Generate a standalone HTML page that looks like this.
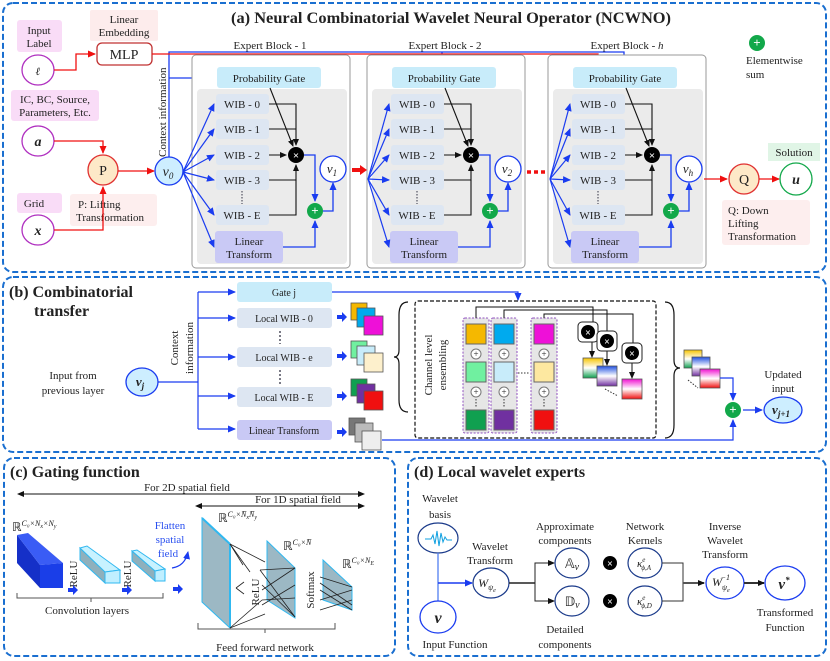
<!DOCTYPE html>
<html><head><meta charset="utf-8">
<style>
html,body{margin:0;padding:0;background:#fff;}
svg{display:block;}
text{font-family:"Liberation Serif",serif;fill:#222;}
.t{font-size:11px;text-anchor:middle;}
.s{font-size:10px;text-anchor:middle;}
.b{font-weight:bold;}
.m{font-style:italic;font-weight:bold;}
</style></head><body>
<svg width="830" height="661" viewBox="0 0 830 661" xmlns="http://www.w3.org/2000/svg">
<defs>
<marker id="ab" markerWidth="8" markerHeight="8" refX="7" refY="4" orient="auto" markerUnits="userSpaceOnUse"><path d="M0,0.5 L8,4 L0,7.5z" fill="#1a3cf0"/></marker>
<marker id="ar" markerWidth="8" markerHeight="8" refX="7" refY="4" orient="auto" markerUnits="userSpaceOnUse"><path d="M0,0.5 L8,4 L0,7.5z" fill="#f01010"/></marker>
<marker id="ak" markerWidth="7" markerHeight="7" refX="6" refY="3.5" orient="auto" markerUnits="userSpaceOnUse"><path d="M0,0.5 L7,3.5 L0,6.5z" fill="#111"/></marker>
<marker id="ak2" markerWidth="7" markerHeight="7" refX="6" refY="3.5" orient="auto-start-reverse" markerUnits="userSpaceOnUse"><path d="M0,0.5 L7,3.5 L0,6.5z" fill="#111"/></marker>
<linearGradient id="g1" x1="0" y1="0" x2="0" y2="1"><stop offset="0" stop-color="#f5c400"/><stop offset="0.5" stop-color="#fff"/><stop offset="1" stop-color="#10a050"/></linearGradient>
<linearGradient id="g2" x1="0" y1="0" x2="0" y2="1"><stop offset="0" stop-color="#2050e0"/><stop offset="0.5" stop-color="#fff"/><stop offset="1" stop-color="#7030a0"/></linearGradient>
<linearGradient id="g3" x1="0" y1="0" x2="0" y2="1"><stop offset="0" stop-color="#f010d0"/><stop offset="0.5" stop-color="#fff"/><stop offset="1" stop-color="#f01010"/></linearGradient>
</defs>

<!-- ================= PANEL A ================= -->
<rect x="3" y="3" width="823" height="269" rx="10" fill="none" stroke="#1a6fd0" stroke-width="2" stroke-dasharray="6,3"/>
<text x="451" y="23" font-size="16" class="b" text-anchor="middle" textLength="440" lengthAdjust="spacingAndGlyphs">(a) Neural Combinatorial Wavelet Neural Operator (NCWNO)</text>

<rect x="17" y="20" width="45" height="32" rx="3" fill="#f9dcf7"/>
<text x="39" y="34" class="t">Input</text><text x="39" y="47" class="t">Label</text>
<rect x="90" y="10" width="68" height="31" rx="2" fill="#fdecec"/>
<text x="124" y="23" class="t">Linear</text><text x="124" y="36" class="t">Embedding</text>
<rect x="97" y="43" width="55" height="22" rx="5" fill="#fff" stroke="#c03030" stroke-width="1.3"/>
<text x="124" y="59" font-size="14" text-anchor="middle">MLP</text>
<ellipse cx="38" cy="70" rx="16" ry="15" fill="#fff" stroke="#b030c0" stroke-width="1.3"/>
<text x="38" y="75" class="t m" font-size="13">ℓ</text>
<path d="M54,70 H76 V54 H95" fill="none" stroke="#f01010" stroke-width="1.3" marker-end="url(#ar)"/>

<rect x="11" y="90" width="88" height="31" rx="3" fill="#f9dcf7"/>
<text x="55" y="103" class="t">IC, BC, Source,</text><text x="55" y="116" class="t">Parameters, Etc.</text>
<ellipse cx="38" cy="141" rx="16" ry="15" fill="#fff" stroke="#b030c0" stroke-width="1.3"/>
<text x="38" y="146" class="m" font-size="14" text-anchor="middle">a</text>
<rect x="17" y="193" width="45" height="20" rx="3" fill="#f9dcf7"/>
<text x="34" y="207" class="t">Grid</text>
<ellipse cx="38" cy="230" rx="16" ry="15" fill="#fff" stroke="#b030c0" stroke-width="1.3"/>
<text x="38" y="235" class="m" font-size="14" text-anchor="middle">x</text>
<rect x="70" y="194" width="87" height="32" rx="3" fill="#fdeeee"/>
<text x="78" y="208" font-size="11">P: Lifting</text><text x="76" y="221" font-size="11">Transformation</text>
<path d="M54,141 H103 V153" fill="none" stroke="#f01010" stroke-width="1.3" marker-end="url(#ar)"/>
<path d="M54,230 H103 V187" fill="none" stroke="#f01010" stroke-width="1.3" marker-end="url(#ar)"/>
<circle cx="103" cy="170" r="15" fill="#fde9c8" stroke="#e03030" stroke-width="1.3"/>
<text x="103" y="175" font-size="14" text-anchor="middle">P</text>
<path d="M118,171 H154" fill="none" stroke="#f01010" stroke-width="1.3" marker-end="url(#ar)"/>
<ellipse cx="169" cy="171" rx="14" ry="14" fill="#cdeeff" stroke="#1a3cf0" stroke-width="1.3"/>
<text x="168" y="176" font-size="14" text-anchor="middle" font-style="italic">v<tspan font-size="9" dy="3">0</tspan></text>
<text transform="translate(166,157) rotate(-90)" font-size="11">Context information</text>
<!-- top lines -->
<path d="M169,157 V52 H624 V65" fill="none" stroke="#1a3cf0" stroke-width="1.3" marker-end="url(#ab)"/>
<path d="M442,52 V65" fill="none" stroke="#1a3cf0" stroke-width="1.3" marker-end="url(#ab)"/>
<path d="M152,54 H598 V65" fill="none" stroke="#f01010" stroke-width="1.3" marker-end="url(#ar)"/>
<path d="M270,54 V65" fill="none" stroke="#f01010" stroke-width="1.3" marker-end="url(#ar)"/>
<path d="M412,54 V65" fill="none" stroke="#f01010" stroke-width="1.3" marker-end="url(#ar)"/>
<path d="M169,78 H215" fill="none" stroke="#1a3cf0" stroke-width="1.3" marker-end="url(#ab)"/>
<text x="270" y="49" class="t">Expert Block - 1</text>
<text x="445" y="49" class="t">Expert Block - 2</text>
<text x="627" y="49" class="t">Expert Block - <tspan font-style="italic">h</tspan></text>

<!-- Block 1 -->
<g id="blk1">
<rect x="192" y="55" width="158" height="213" rx="4" fill="#fff" stroke="#999"/>
<rect x="197" y="89" width="150" height="175" rx="4" fill="#ebebeb"/>
<rect x="217" y="67" width="104" height="21" rx="3" fill="#c8ecfa"/>
<text x="269" y="82" class="t" font-size="11.5">Probability Gate</text>
<rect x="216" y="94" width="53" height="20" rx="3" fill="#dde6f2"/><text x="242" y="108" class="t">WIB - 0</text>
<rect x="216" y="119" width="53" height="20" rx="3" fill="#dde6f2"/><text x="242" y="133" class="t">WIB - 1</text>
<rect x="216" y="145" width="53" height="20" rx="3" fill="#dde6f2"/><text x="242" y="159" class="t">WIB - 2</text>
<rect x="216" y="170" width="53" height="20" rx="3" fill="#dde6f2"/><text x="242" y="184" class="t">WIB - 3</text>
<line x1="242" y1="191" x2="242" y2="204" stroke="#334" stroke-dasharray="1.5,1.5"/>
<rect x="216" y="205" width="53" height="20" rx="3" fill="#dde6f2"/><text x="242" y="219" class="t">WIB - E</text>
<rect x="215" y="231" width="68" height="32" rx="3" fill="#c9c9f5"/>
<text x="249" y="245" class="t">Linear</text><text x="249" y="258" class="t">Transform</text>
<path d="M269,104 H296 V145" fill="none" stroke="#111" stroke-width="1.1" marker-end="url(#ak)"/>
<path d="M269,129 H296" fill="none" stroke="#111" stroke-width="1.1"/>
<path d="M269,155 H286" fill="none" stroke="#111" stroke-width="1.1" marker-end="url(#ak)"/>
<path d="M269,180 H296 V165" fill="none" stroke="#111" stroke-width="1.1" marker-end="url(#ak)"/>
<path d="M269,215 H296 V180" fill="none" stroke="#111" stroke-width="1.1"/>
<path d="M270,88 L293,146" fill="none" stroke="#111" stroke-width="1.1" marker-end="url(#ak)"/>
<circle cx="296" cy="155" r="8" fill="#000"/><text x="296" y="159" font-size="11" text-anchor="middle" fill="#fff" style="fill:#fff" font-weight="bold">×</text>
<path d="M304,155 H315 V201" fill="none" stroke="#1a3cf0" stroke-width="1.3" marker-end="url(#ab)"/>
<path d="M283,247 H315 V221" fill="none" stroke="#1a3cf0" stroke-width="1.3" marker-end="url(#ab)"/>
<circle cx="315" cy="211" r="8" fill="#12a84a"/><text x="315" y="215" font-size="13" text-anchor="middle" style="fill:#fff" font-weight="bold">+</text>
<path d="M323,211 H333 V183" fill="none" stroke="#1a3cf0" stroke-width="1.3" marker-end="url(#ab)"/>
<circle cx="333" cy="169" r="13" fill="#fff" stroke="#1a3cf0" stroke-width="1.3"/>
</g>
<text x="332" y="173" font-size="13" text-anchor="middle" font-style="italic">v<tspan font-size="9" dy="3">1</tspan></text>
<g transform="translate(175,0)">
<rect x="192" y="55" width="158" height="213" rx="4" fill="#fff" stroke="#999"/>
<rect x="197" y="89" width="150" height="175" rx="4" fill="#ebebeb"/>
<rect x="217" y="67" width="104" height="21" rx="3" fill="#c8ecfa"/>
<text x="269" y="82" class="t" font-size="11.5">Probability Gate</text>
<rect x="216" y="94" width="53" height="20" rx="3" fill="#dde6f2"/><text x="242" y="108" class="t">WIB - 0</text>
<rect x="216" y="119" width="53" height="20" rx="3" fill="#dde6f2"/><text x="242" y="133" class="t">WIB - 1</text>
<rect x="216" y="145" width="53" height="20" rx="3" fill="#dde6f2"/><text x="242" y="159" class="t">WIB - 2</text>
<rect x="216" y="170" width="53" height="20" rx="3" fill="#dde6f2"/><text x="242" y="184" class="t">WIB - 3</text>
<line x1="242" y1="191" x2="242" y2="204" stroke="#334" stroke-dasharray="1.5,1.5"/>
<rect x="216" y="205" width="53" height="20" rx="3" fill="#dde6f2"/><text x="242" y="219" class="t">WIB - E</text>
<rect x="215" y="231" width="68" height="32" rx="3" fill="#c9c9f5"/>
<text x="249" y="245" class="t">Linear</text><text x="249" y="258" class="t">Transform</text>
<path d="M269,104 H296 V145" fill="none" stroke="#111" stroke-width="1.1" marker-end="url(#ak)"/>
<path d="M269,129 H296" fill="none" stroke="#111" stroke-width="1.1"/>
<path d="M269,155 H286" fill="none" stroke="#111" stroke-width="1.1" marker-end="url(#ak)"/>
<path d="M269,180 H296 V165" fill="none" stroke="#111" stroke-width="1.1" marker-end="url(#ak)"/>
<path d="M269,215 H296 V180" fill="none" stroke="#111" stroke-width="1.1"/>
<path d="M270,88 L293,146" fill="none" stroke="#111" stroke-width="1.1" marker-end="url(#ak)"/>
<circle cx="296" cy="155" r="8" fill="#000"/><text x="296" y="159" font-size="11" text-anchor="middle" style="fill:#fff" font-weight="bold">×</text>
<path d="M304,155 H315 V201" fill="none" stroke="#1a3cf0" stroke-width="1.3" marker-end="url(#ab)"/>
<path d="M283,247 H315 V221" fill="none" stroke="#1a3cf0" stroke-width="1.3" marker-end="url(#ab)"/>
<circle cx="315" cy="211" r="8" fill="#12a84a"/><text x="315" y="215" font-size="13" text-anchor="middle" style="fill:#fff" font-weight="bold">+</text>
<path d="M323,211 H333 V183" fill="none" stroke="#1a3cf0" stroke-width="1.3" marker-end="url(#ab)"/>
<circle cx="333" cy="169" r="13" fill="#fff" stroke="#1a3cf0" stroke-width="1.3"/>
<text x="332" y="173" font-size="13" text-anchor="middle" font-style="italic">v<tspan font-size="9" dy="3">2</tspan></text>
</g>
<g transform="translate(356,0)">
<rect x="192" y="55" width="158" height="213" rx="4" fill="#fff" stroke="#999"/>
<rect x="197" y="89" width="150" height="175" rx="4" fill="#ebebeb"/>
<rect x="217" y="67" width="104" height="21" rx="3" fill="#c8ecfa"/>
<text x="269" y="82" class="t" font-size="11.5">Probability Gate</text>
<rect x="216" y="94" width="53" height="20" rx="3" fill="#dde6f2"/><text x="242" y="108" class="t">WIB - 0</text>
<rect x="216" y="119" width="53" height="20" rx="3" fill="#dde6f2"/><text x="242" y="133" class="t">WIB - 1</text>
<rect x="216" y="145" width="53" height="20" rx="3" fill="#dde6f2"/><text x="242" y="159" class="t">WIB - 2</text>
<rect x="216" y="170" width="53" height="20" rx="3" fill="#dde6f2"/><text x="242" y="184" class="t">WIB - 3</text>
<line x1="242" y1="191" x2="242" y2="204" stroke="#334" stroke-dasharray="1.5,1.5"/>
<rect x="216" y="205" width="53" height="20" rx="3" fill="#dde6f2"/><text x="242" y="219" class="t">WIB - E</text>
<rect x="215" y="231" width="68" height="32" rx="3" fill="#c9c9f5"/>
<text x="249" y="245" class="t">Linear</text><text x="249" y="258" class="t">Transform</text>
<path d="M269,104 H296 V145" fill="none" stroke="#111" stroke-width="1.1" marker-end="url(#ak)"/>
<path d="M269,129 H296" fill="none" stroke="#111" stroke-width="1.1"/>
<path d="M269,155 H286" fill="none" stroke="#111" stroke-width="1.1" marker-end="url(#ak)"/>
<path d="M269,180 H296 V165" fill="none" stroke="#111" stroke-width="1.1" marker-end="url(#ak)"/>
<path d="M269,215 H296 V180" fill="none" stroke="#111" stroke-width="1.1"/>
<path d="M270,88 L293,146" fill="none" stroke="#111" stroke-width="1.1" marker-end="url(#ak)"/>
<circle cx="296" cy="155" r="8" fill="#000"/><text x="296" y="159" font-size="11" text-anchor="middle" style="fill:#fff" font-weight="bold">×</text>
<path d="M304,155 H315 V201" fill="none" stroke="#1a3cf0" stroke-width="1.3" marker-end="url(#ab)"/>
<path d="M283,247 H315 V221" fill="none" stroke="#1a3cf0" stroke-width="1.3" marker-end="url(#ab)"/>
<circle cx="315" cy="211" r="8" fill="#12a84a"/><text x="315" y="215" font-size="13" text-anchor="middle" style="fill:#fff" font-weight="bold">+</text>
<path d="M323,211 H333 V183" fill="none" stroke="#1a3cf0" stroke-width="1.3" marker-end="url(#ab)"/>
<circle cx="333" cy="169" r="13" fill="#fff" stroke="#1a3cf0" stroke-width="1.3"/>
<text x="332" y="173" font-size="13" text-anchor="middle" font-style="italic">v<tspan font-size="9" dy="3">h</tspan></text>
</g>
<!-- fans -->
<g fill="none" stroke="#1a3cf0" stroke-width="1.2" marker-end="url(#ab)">
<path d="M183,172 L214,104"/><path d="M183,172 L214,129"/><path d="M183,172 L214,155"/><path d="M183,172 L214,180"/><path d="M183,172 L214,215"/><path d="M183,172 L214,247"/>
<path d="M368,179 L389,104"/><path d="M368,179 L389,129"/><path d="M368,179 L389,155"/><path d="M368,179 L389,180"/><path d="M368,179 L389,215"/><path d="M368,179 L389,247"/>
<path d="M550,179 L570,104"/><path d="M550,179 L570,129"/><path d="M550,179 L570,155"/><path d="M550,179 L570,180"/><path d="M550,179 L570,215"/><path d="M550,179 L570,247"/>
</g>
<path d="M352,170 H361" stroke="#f01010" stroke-width="4"/><path d="M360,165 L367,170 L360,175z" fill="#f01010"/>
<line x1="527" y1="172" x2="546" y2="172" stroke="#f01010" stroke-width="3.5" stroke-dasharray="4,3"/>
<!-- Q / u -->
<path d="M704,179 H727" fill="none" stroke="#f01010" stroke-width="1.3" marker-end="url(#ar)"/>
<circle cx="744" cy="179" r="15" fill="#fde9c8" stroke="#e03030" stroke-width="1.3"/>
<text x="744" y="184" font-size="14" text-anchor="middle">Q</text>
<path d="M759,179 H779" fill="none" stroke="#f01010" stroke-width="1.3" marker-end="url(#ar)"/>
<circle cx="796" cy="179" r="16" fill="#fff" stroke="#12a84a" stroke-width="1.3"/>
<text x="796" y="184" class="m" font-size="14" text-anchor="middle">u</text>
<rect x="768" y="143" width="52" height="18" fill="#e0f5e6"/>
<text x="794" y="156" class="t">Solution</text>
<rect x="722" y="200" width="88" height="45" rx="3" fill="#fdeeee"/>
<text x="728" y="214" font-size="11">Q: Down</text><text x="728" y="227" font-size="11">Lifting</text><text x="728" y="240" font-size="11">Transformation</text>
<circle cx="757" cy="43" r="8" fill="#12a84a"/><text x="757" y="47" font-size="13" text-anchor="middle" style="fill:#fff" font-weight="bold">+</text>
<text x="746" y="64" font-size="11">Elementwise</text><text x="746" y="78" font-size="11">sum</text>

<!-- ================= PANEL B ================= -->
<rect x="3" y="277" width="823" height="175" rx="10" fill="none" stroke="#1a6fd0" stroke-width="2" stroke-dasharray="6,3"/>
<text x="9" y="297" font-size="16" class="b">(b) Combinatorial</text>
<text x="34" y="316" font-size="16" class="b">transfer</text>
<text x="73" y="379" class="t" font-size="12">Input from</text><text x="73" y="394" class="t" font-size="12">previous layer</text>
<ellipse cx="142" cy="382" rx="16" ry="14" fill="#cdeeff" stroke="#1a3cf0" stroke-width="1.3"/>
<text x="140" y="386" class="m" font-size="13" text-anchor="middle">v<tspan font-size="9" dy="3">j</tspan></text>
<path d="M158,382 H198" fill="none" stroke="#1a3cf0" stroke-width="1.2"/>
<path d="M198,292 V429" fill="none" stroke="#1a3cf0" stroke-width="1.2"/>
<g fill="none" stroke="#1a3cf0" stroke-width="1.2" marker-end="url(#ab)">
<path d="M198,292 H235"/><path d="M198,318 H235"/><path d="M198,357 H235"/><path d="M198,396 H235"/><path d="M198,429 H235"/>
</g>
<text transform="translate(178,348) rotate(-90)" class="t" font-size="11">Context</text>
<text transform="translate(193,348) rotate(-90)" class="t" font-size="11">information</text>
<rect x="237" y="282" width="95" height="20" rx="3" fill="#c8ecfa"/><text x="284" y="296" class="s">Gate j</text>
<rect x="237" y="308" width="95" height="20" rx="3" fill="#dde6f2"/><text x="284" y="322" class="s">Local WIB - 0</text>
<rect x="237" y="347" width="95" height="20" rx="3" fill="#dde6f2"/><text x="284" y="361" class="s">Local WIB - e</text>
<rect x="237" y="387" width="95" height="20" rx="3" fill="#dde6f2"/><text x="284" y="401" class="s">Local WIB - E</text>
<rect x="237" y="420" width="95" height="20" rx="3" fill="#c9c9f5"/><text x="284" y="434" class="s">Linear Transform</text>
<line x1="280" y1="331" x2="280" y2="344" stroke="#334" stroke-width="1.3" stroke-dasharray="2,2"/>
<line x1="280" y1="370" x2="280" y2="384" stroke="#334" stroke-width="1.3" stroke-dasharray="2,2"/>
<path d="M332,292 H518 V300" fill="none" stroke="#1a3cf0" stroke-width="1.2" marker-end="url(#ab)"/>
<!-- small arrows -->
<g fill="#1a3cf0"><path d="M337,315 h5 v-3 l5,5 l-5,5 v-3 h-5z"/><path d="M337,354 h5 v-3 l5,5 l-5,5 v-3 h-5z"/><path d="M337,394 h5 v-3 l5,5 l-5,5 v-3 h-5z"/><path d="M337,430 h5 v-3 l5,5 l-5,5 v-3 h-5z"/></g>
<!-- stacks -->
<g stroke="#555" stroke-width="0.8">
<rect x="351" y="303" width="16" height="17" fill="#f5b800"/><rect x="357" y="308" width="18" height="19" fill="#00aaee"/><rect x="364" y="316" width="19" height="19" fill="#ee10d8"/>
<rect x="351" y="341" width="16" height="17" fill="#70f0a0"/><rect x="357" y="346" width="18" height="19" fill="#c8ecfa"/><rect x="364" y="353" width="19" height="19" fill="#fdf0cc"/>
<rect x="351" y="379" width="16" height="17" fill="#10a050"/><rect x="357" y="384" width="18" height="19" fill="#7030a0"/><rect x="364" y="391" width="19" height="19" fill="#f01010"/>
<rect x="349" y="418" width="16" height="17" fill="#777"/><rect x="355" y="423" width="18" height="19" fill="#bbb"/><rect x="362" y="431" width="19" height="19" fill="#eee"/>
</g>
<!-- braces -->
<path d="M408,302 Q399,302 399,315 V350 Q399,357 394,357 Q399,357 399,364 V400 Q399,412 408,412" fill="none" stroke="#111" stroke-width="1.2"/>
<path d="M665,302 Q674,302 674,315 V360 Q674,368 680,368 Q674,368 674,376 V425 Q674,438 665,438" fill="none" stroke="#111" stroke-width="1.2"/>
<rect x="415" y="301" width="241" height="137" rx="3" fill="none" stroke="#111" stroke-width="1.2" stroke-dasharray="4,2"/>
<text transform="translate(432,365) rotate(-90)" class="t" font-size="11">Channel level</text>
<text transform="translate(446,365) rotate(-90)" class="t" font-size="11">ensembling</text>
<!-- columns -->
<g fill="#e6e6e6" stroke="#9050c0" stroke-dasharray="2,1.5" stroke-width="1">
<rect x="463" y="318" width="26" height="115" rx="2"/><rect x="491" y="318" width="26" height="115" rx="2"/><rect x="531" y="318" width="26" height="115" rx="2"/>
</g>
<g stroke="#666" stroke-width="1">
<rect x="466" y="324" width="20" height="20" fill="#f5b800"/><rect x="466" y="362" width="20" height="20" fill="#70f0a0"/><rect x="466" y="410" width="20" height="20" fill="#10a050"/>
<rect x="494" y="324" width="20" height="20" fill="#00aaee"/><rect x="494" y="362" width="20" height="20" fill="#c8ecfa"/><rect x="494" y="410" width="20" height="20" fill="#7030a0"/>
<rect x="534" y="324" width="20" height="20" fill="#ee10d8"/><rect x="534" y="362" width="20" height="20" fill="#fde8a0"/><rect x="534" y="410" width="20" height="20" fill="#f01010"/>
</g>
<g fill="#fff" stroke="#777"><circle cx="476" cy="354" r="5"/><circle cx="504" cy="354" r="5"/><circle cx="544" cy="354" r="5"/><circle cx="476" cy="392" r="5"/><circle cx="504" cy="392" r="5"/><circle cx="544" cy="392" r="5"/></g>
<g font-size="9" text-anchor="middle"><text x="476" y="357">+</text><text x="504" y="357">+</text><text x="544" y="357">+</text><text x="476" y="395">+</text><text x="504" y="395">+</text><text x="544" y="395">+</text></g>
<g stroke="#333" stroke-dasharray="1.5,1.5"><line x1="476" y1="399" x2="476" y2="408"/><line x1="504" y1="399" x2="504" y2="408"/><line x1="544" y1="399" x2="544" y2="408"/><line x1="518" y1="373" x2="530" y2="373"/><line x1="605" y1="389" x2="618" y2="396"/></g>
<g fill="none" stroke="#111" stroke-width="1">
<path d="M476,318 V307 H593 V326"/><path d="M504,318 V310 H607 V335"/><path d="M544,318 V314 H633 V346"/>
</g>
<g fill="none" stroke="#111" stroke-width="1" marker-end="url(#ak)"><path d="M592,340 V357"/><path d="M607,350 V365"/><path d="M632,362 V378"/></g>
<g><rect x="578" y="322" width="20" height="20" rx="4" fill="#fff" stroke="#222"/><circle cx="588" cy="332" r="7" fill="#000"/>
<rect x="597" y="331" width="20" height="20" rx="4" fill="#fff" stroke="#222"/><circle cx="607" cy="341" r="7" fill="#000"/>
<rect x="622" y="343" width="20" height="20" rx="4" fill="#fff" stroke="#222"/><circle cx="632" cy="353" r="7" fill="#000"/></g>
<g font-size="10" text-anchor="middle" font-weight="bold" style="fill:#fff"><text x="588" y="336" style="fill:#fff">×</text><text x="607" y="345" style="fill:#fff">×</text><text x="632" y="357" style="fill:#fff">×</text></g>
<g stroke="#555" stroke-width="0.8"><rect x="583" y="358" width="20" height="20" fill="url(#g1)"/><rect x="597" y="366" width="20" height="20" fill="url(#g2)"/><rect x="622" y="379" width="20" height="20" fill="url(#g3)"/>
<rect x="684" y="350" width="18" height="18" fill="url(#g1)"/><rect x="692" y="357" width="18" height="19" fill="url(#g2)"/><rect x="700" y="369" width="20" height="19" fill="url(#g3)"/></g>
<line x1="688" y1="380" x2="698" y2="388" stroke="#333" stroke-dasharray="1.5,1.5"/>
<path d="M720,378 H733 V400" fill="none" stroke="#1a3cf0" stroke-width="1.2" marker-end="url(#ab)"/>
<path d="M382,440 H733 V420" fill="none" stroke="#1a3cf0" stroke-width="1.2" marker-end="url(#ab)"/>
<circle cx="733" cy="410" r="8" fill="#12a84a"/><text x="733" y="414" font-size="13" text-anchor="middle" style="fill:#fff" font-weight="bold">+</text>
<path d="M743,410 H762" fill="none" stroke="#1a3cf0" stroke-width="1.2" marker-end="url(#ab)"/>
<ellipse cx="783" cy="410" rx="19" ry="13" fill="#cdeeff" stroke="#1a3cf0" stroke-width="1.3"/>
<text x="781" y="414" class="m" font-size="13" text-anchor="middle">v<tspan font-size="9" dy="3">j+1</tspan></text>
<text x="783" y="378" class="t" font-size="12">Updated</text><text x="783" y="392" class="t" font-size="12">input</text>

<!-- ================= PANEL C ================= -->
<rect x="4" y="458" width="391" height="198" rx="10" fill="none" stroke="#1a6fd0" stroke-width="2" stroke-dasharray="6,3"/>
<text x="10" y="477" font-size="16" class="b">(c) Gating function</text>
<line x1="18" y1="494" x2="364" y2="494" stroke="#111" marker-start="url(#ak2)" marker-end="url(#ak2)"/>
<text x="187" y="491" class="t">For 2D spatial field</text>
<line x1="196" y1="506" x2="364" y2="506" stroke="#111" marker-start="url(#ak2)" marker-end="url(#ak2)"/>
<text x="298" y="503" class="t">For 1D spatial field</text>
<text x="12" y="531" font-size="12">ℝ<tspan font-size="8" dy="-5" font-style="italic">C₀×N<tspan font-size="6" dy="2">x</tspan><tspan dy="-2">×N</tspan><tspan font-size="6" dy="2">y</tspan></tspan></text>
<polygon points="17,535 40,565 40,588 17,563" fill="#1530c8"/>
<polygon points="17,535 28,533 63,563 40,565" fill="#3a5cf5"/>
<polygon points="40,565 63,563 63,588 40,588" fill="#1a3ee8"/>
<g stroke="#30b8f0" stroke-width="1">
<polygon points="80,548 105,572 105,583 80,560" fill="#8fb0bc"/><polygon points="80,548 87,546 120,570 105,572" fill="#c8f2ff"/><polygon points="105,572 120,570 120,583 105,583" fill="#c0efff"/>
<polygon points="132,551 155,571 155,581 132,561" fill="#8fb0bc"/><polygon points="132,551 137,550 165,569 155,571" fill="#c8f2ff"/><polygon points="155,571 165,569 165,581 155,581" fill="#c0efff"/>
</g>
<text transform="translate(77,574) rotate(-90)" class="t" font-size="10">ReLU</text>
<text transform="translate(131,574) rotate(-90)" class="t" font-size="10">ReLU</text>
<g fill="#1a3cf0"><path d="M68,588 h5 v-3 l5,5 l-5,5 v-3 h-5z"/><path d="M122,588 h5 v-3 l5,5 l-5,5 v-3 h-5z"/><path d="M173,587 h5 v-3 l5,5 l-5,5 v-3 h-5z"/></g>
<path d="M17,593 V598 H91 V602 M91,598 H163 V593" fill="none" stroke="#555"/>
<text x="87" y="614" class="t" font-size="12">Convolution layers</text>
<g font-size="11" text-anchor="middle" style="fill:#2a50f0"><text x="170" y="529" style="fill:#2a50f0">Flatten</text><text x="170" y="543" style="fill:#2a50f0">spatial</text><text x="168" y="557" style="fill:#2a50f0">field</text></g>
<path d="M172,568 Q185,566 188,552" fill="none" stroke="#1a3cf0" stroke-width="1.2" marker-end="url(#ab)"/>
<polygon points="202,518 230,544 230,628 202,602" fill="#9cb8c4" stroke="#30b8f0" stroke-width="1"/>
<polygon points="267,541 295,568 295,618 267,600" fill="#9cb8c4" stroke="#30b8f0" stroke-width="1"/>
<polygon points="323,560 352,587 352,610 323,600" fill="#9cb8c4" stroke="#30b8f0" stroke-width="1"/>
<line x1="202" y1="518" x2="230" y2="544" stroke="#30b8f0" stroke-width="2"/>
<line x1="230" y1="544" x2="230" y2="628" stroke="#30b8f0" stroke-width="2"/>
<g stroke="#222" stroke-width="0.8">
<line x1="230" y1="544" x2="265" y2="562"/><line x1="230" y1="544" x2="250" y2="572"/><line x1="230" y1="544" x2="243" y2="565"/>
<line x1="230" y1="628" x2="265" y2="614"/><line x1="230" y1="628" x2="262" y2="600"/>
<line x1="236" y1="588" x2="244" y2="582"/><line x1="236" y1="588" x2="244" y2="594"/>
<line x1="260" y1="570" x2="295" y2="568"/><line x1="260" y1="570" x2="295" y2="617"/><line x1="262" y1="590" x2="295" y2="568"/><line x1="262" y1="605" x2="295" y2="585"/><line x1="262" y1="585" x2="295" y2="617"/><line x1="262" y1="600" x2="295" y2="598"/>
<line x1="320" y1="577" x2="352" y2="587"/><line x1="320" y1="590" x2="352" y2="610"/><line x1="320" y1="600" x2="352" y2="590"/><line x1="320" y1="610" x2="352" y2="600"/><line x1="320" y1="583" x2="352" y2="605"/>
</g>
<text x="218" y="522" font-size="12">ℝ<tspan font-size="8" dy="-5" font-style="italic">C₀×N̄<tspan font-size="6" dy="2">x</tspan><tspan dy="-2">N̄</tspan><tspan font-size="6" dy="2">y</tspan></tspan></text>
<text x="283" y="550" font-size="12">ℝ<tspan font-size="8" dy="-5" font-style="italic">C₀×N̄</tspan></text>
<text x="342" y="568" font-size="12">ℝ<tspan font-size="8" dy="-5" font-style="italic">C₀×N<tspan font-size="6" dy="2">E</tspan></tspan></text>
<text transform="translate(259,592) rotate(-90)" class="t" font-size="11">ReLU</text>
<text transform="translate(314,590) rotate(-90)" class="t" font-size="11">Softmax</text>
<path d="M198,623 V629 H265 V633 M265,629 H335 V623" fill="none" stroke="#555"/>
<text x="265" y="651" class="t" font-size="12">Feed forward network</text>

<!-- ================= PANEL D ================= -->
<rect x="408" y="458" width="418" height="198" rx="10" fill="none" stroke="#1a6fd0" stroke-width="2" stroke-dasharray="6,3"/>
<text x="414" y="477" font-size="16" class="b">(d) Local wavelet experts</text>
<text x="440" y="502" class="t" font-size="12">Wavelet</text><text x="440" y="518" class="t" font-size="12">basis</text>
<ellipse cx="438" cy="538" rx="20" ry="15" fill="#fff" stroke="#1a3a8a" stroke-width="1.2"/>
<path d="M425,539 H431 L433,535 L435,544 L437,531 L439,546 L441,533 L443,542 L445,537 L447,540 H452" fill="none" stroke="#10a0e0" stroke-width="1"/>
<path d="M438,553 V601" stroke="#5080f0" stroke-width="1.3"/>
<path d="M438,583 H472" fill="none" stroke="#1a3cf0" stroke-width="1.5" marker-end="url(#ab)"/>
<ellipse cx="438" cy="617" rx="18" ry="16" fill="#fff" stroke="#1a3cf0" stroke-width="1.3"/>
<text x="438" y="623" class="m" font-size="16" text-anchor="middle">v</text>
<text x="455" y="648" class="t" font-size="12">Input Function</text>
<text x="490" y="550" class="t" font-size="12">Wavelet</text><text x="490" y="564" class="t" font-size="12">Transform</text>
<ellipse cx="491" cy="583" rx="18" ry="15" fill="#fff" stroke="#1a3a8a" stroke-width="1.2"/>
<text x="487" y="587" font-size="12" text-anchor="middle" font-style="italic">W<tspan font-size="8" dy="3">ψ</tspan><tspan font-size="6" dy="2">e</tspan></text>
<path d="M509,583 H535" stroke="#222" stroke-width="1.5"/>
<path d="M535,583 V563 H554" fill="none" stroke="#222" stroke-width="1" marker-end="url(#ak)"/>
<path d="M535,583 V601 H554" fill="none" stroke="#222" stroke-width="1" marker-end="url(#ak)"/>
<ellipse cx="572" cy="563" rx="17" ry="15" fill="#fff" stroke="#1a3a8a" stroke-width="1.2"/>
<ellipse cx="572" cy="601" rx="17" ry="15" fill="#fff" stroke="#1a3a8a" stroke-width="1.2"/>
<text x="572" y="568" font-size="13" text-anchor="middle">𝔸<tspan font-size="10" font-style="italic" dy="2">v</tspan></text>
<text x="572" y="606" font-size="13" text-anchor="middle">𝔻<tspan font-size="10" font-style="italic" dy="2">v</tspan></text>
<text x="565" y="530" class="t" font-size="12">Approximate</text><text x="565" y="544" class="t" font-size="12">components</text>
<text x="565" y="633" class="t" font-size="12">Detailed</text><text x="565" y="648" class="t" font-size="12">components</text>
<circle cx="610" cy="563" r="7" fill="#000"/><circle cx="610" cy="601" r="7" fill="#000"/>
<text x="610" y="567" font-size="10" text-anchor="middle" style="fill:#fff" font-weight="bold">×</text><text x="610" y="605" font-size="10" text-anchor="middle" style="fill:#fff" font-weight="bold">×</text>
<ellipse cx="645" cy="563" rx="17" ry="15" fill="#fff" stroke="#1a3a8a" stroke-width="1.2"/>
<ellipse cx="645" cy="601" rx="17" ry="15" fill="#fff" stroke="#1a3a8a" stroke-width="1.2"/>
<text x="637" y="567" font-size="11" font-style="italic">κ<tspan font-size="7" dy="-5">e</tspan><tspan font-size="7" dx="-4" dy="8">ϕ,A</tspan></text>
<text x="637" y="605" font-size="11" font-style="italic">κ<tspan font-size="7" dy="-5">e</tspan><tspan font-size="7" dx="-4" dy="8">ϕ,D</tspan></text>
<text x="645" y="530" class="t" font-size="12">Network</text><text x="645" y="544" class="t" font-size="12">Kernels</text>
<path d="M662,563 H683 V601 H662" fill="none" stroke="#333" stroke-width="1"/>
<path d="M683,583 H704" fill="none" stroke="#555" stroke-width="2" marker-end="url(#ak)"/>
<ellipse cx="725" cy="583" rx="19" ry="16" fill="#fff" stroke="#1a3cf0" stroke-width="1.3"/>
<text x="721" y="586" font-size="12" text-anchor="middle" font-style="italic">W<tspan font-size="8" dy="4">ψ</tspan><tspan font-size="6" dy="2">e</tspan><tspan font-size="8" dx="-9" dy="-12">−1</tspan></text>
<text x="725" y="530" class="t" font-size="12">Inverse</text><text x="725" y="544" class="t" font-size="12">Wavelet</text><text x="725" y="558" class="t" font-size="12">Transform</text>
<path d="M744,583 H764" fill="none" stroke="#333" stroke-width="2" marker-end="url(#ak)"/>
<ellipse cx="785" cy="583" rx="20" ry="17" fill="#fff" stroke="#1a3cf0" stroke-width="1.3"/>
<text x="784" y="589" class="m" font-size="15" text-anchor="middle">v<tspan font-size="9" dy="-6">*</tspan></text>
<text x="785" y="616" class="t" font-size="12">Transformed</text><text x="785" y="631" class="t" font-size="12">Function</text>
</svg>
</body></html>
